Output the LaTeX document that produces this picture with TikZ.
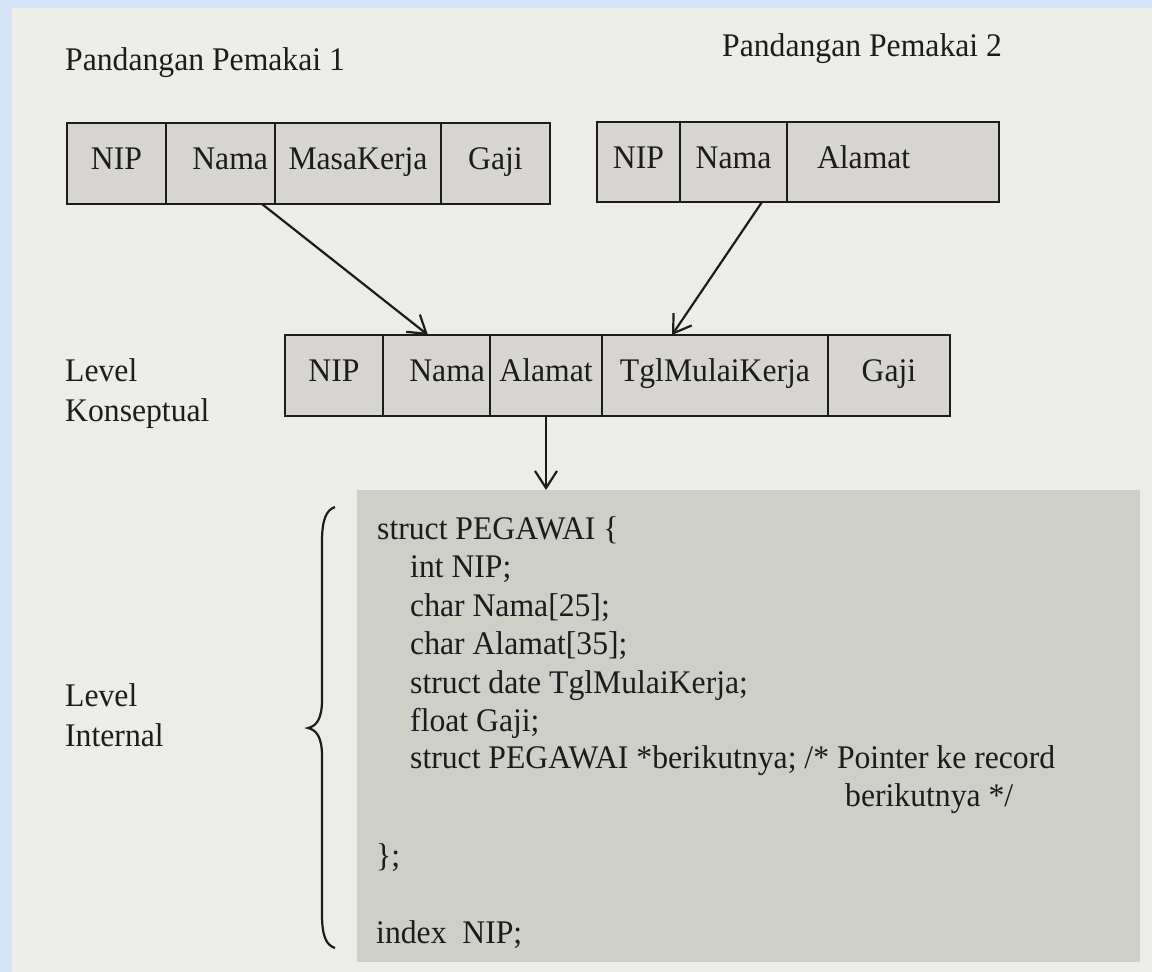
\documentclass[tikz,border=0pt]{standalone}
\usepackage{fontspec}
\setmainfont[FakeStretch=0.96]{Liberation Serif}
\usetikzlibrary{arrows.meta,calc}
\definecolor{frameblue}{RGB}{214,228,250}
\definecolor{paper}{RGB}{236,236,233}
\definecolor{cellgrey}{RGB}{214,213,209}
\definecolor{codegrey}{RGB}{207,207,202}
\definecolor{ink}{RGB}{28,28,28}
\begin{document}
\begin{tikzpicture}[x=1pt,y=-1pt,
  every node/.style={font=\fontsize{33}{38}\selectfont, text=ink},
  cell/.style={draw=ink, line width=2.2pt, fill=cellgrey, minimum height=81,
    inner sep=0pt, outer sep=0pt, anchor=north west,
    text height=21pt, text depth=9pt},
  lbl/.style={anchor=base west, inner sep=0pt},
  arr/.style={draw=ink, line width=2.2pt,
    -{Straight Barb[length=17pt,width=22pt,line width=2.2pt]}}]
% background
\fill[frameblue] (0,0) rectangle (1152,972);
\fill[paper] (12,8) rectangle (1152,972);
\useasboundingbox (0,0) rectangle (1152,972);

% titles
\node[lbl] (t1) at (65,70) {Pandangan Pemakai 1};
\node[lbl] (t2) at (722,56) {Pandangan Pemakai 2};

% user view 1
\node[cell, minimum width=99] (a1) at (67,123) {NIP};
\node[cell, minimum width=109, text width=95, align=right] (a2) at (a1.north east) {Nama};
\node[cell, minimum width=166] (a3) at (a2.north east) {MasaKerja};
\node[cell, minimum width=109] (a4) at (a3.north east) {Gaji};

% user view 2
\node[cell, minimum width=83, minimum height=80] (b1) at (597,122) {NIP};
\node[cell, minimum width=107, minimum height=80] (b2) at (b1.north east) {Nama};
\node[cell, minimum width=212, minimum height=80, text width=152, align=left] (b3) at (b2.north east) {Alamat};

% conceptual level
\node[cell, minimum width=98] (c1) at (285,335) {NIP};
\node[cell, minimum width=107, text width=97, align=right] (c2) at (c1.north east) {Nama};
\node[cell, minimum width=112] (c3) at (c2.north east) {Alamat};
\node[cell, minimum width=226] (c4) at (c3.north east) {TglMulaiKerja};
\node[cell, minimum width=122] (c5) at (c4.north east) {Gaji};

\node[lbl] (lk1) at (65,381) {Level};
\node[lbl] (lk2) at (65,421) {Konseptual};

% internal level
\node[fill=codegrey, minimum width=783, minimum height=472, inner sep=0pt,
  anchor=north west] (code) at (357,490) {};

\node[lbl] (li1) at (65,706) {Level};
\node[lbl] (li2) at (65,746) {Internal};

\node[lbl] (k1) at (377,539) {struct PEGAWAI \{};
\node[lbl] (k2) at (410,577) {int NIP;};
\node[lbl] (k3) at (410,616) {char Nama[25];};
\node[lbl] (k4) at (410,654) {char Alamat[35];};
\node[lbl] (k5) at (410,693) {struct date TglMulaiKerja;};
\node[lbl] (k6) at (410,731) {float Gaji;};
\node[lbl] (k7) at (410,768) {struct PEGAWAI *berikutnya; /* Pointer ke record};
\node[lbl] (k8) at (845,806) {berikutnya */};
\node[lbl] (k9) at (376,866) {\};};
\node[lbl] (k10) at (376,943) {index\ \ NIP;};

% brace
\draw[ink, line width=2.2pt]
  (335,507) .. controls (326,510) and (322,520) .. (322,542)
  -- (322,700) .. controls (322,718) and (317,726) .. (308,728)
  .. controls (317,730) and (322,738) .. (322,756)
  -- (322,914) .. controls (322,936) and (326,945) .. (335,948);

% connectors
\coordinate (s1) at ($(a2.south west)+(96,0)$);
\coordinate (e1) at ($(c2.north west)+(45,0)$);
\coordinate (s2) at ($(b2.south west)+(82,0)$);
\coordinate (e2) at ($(c4.north west)+(70,0)$);
\draw[arr] (s1) -- (e1);
\draw[arr] (s2) -- (e2);
\draw[arr] (c3.south) -- (c3.south |- code.north);
\end{tikzpicture}
\end{document}
